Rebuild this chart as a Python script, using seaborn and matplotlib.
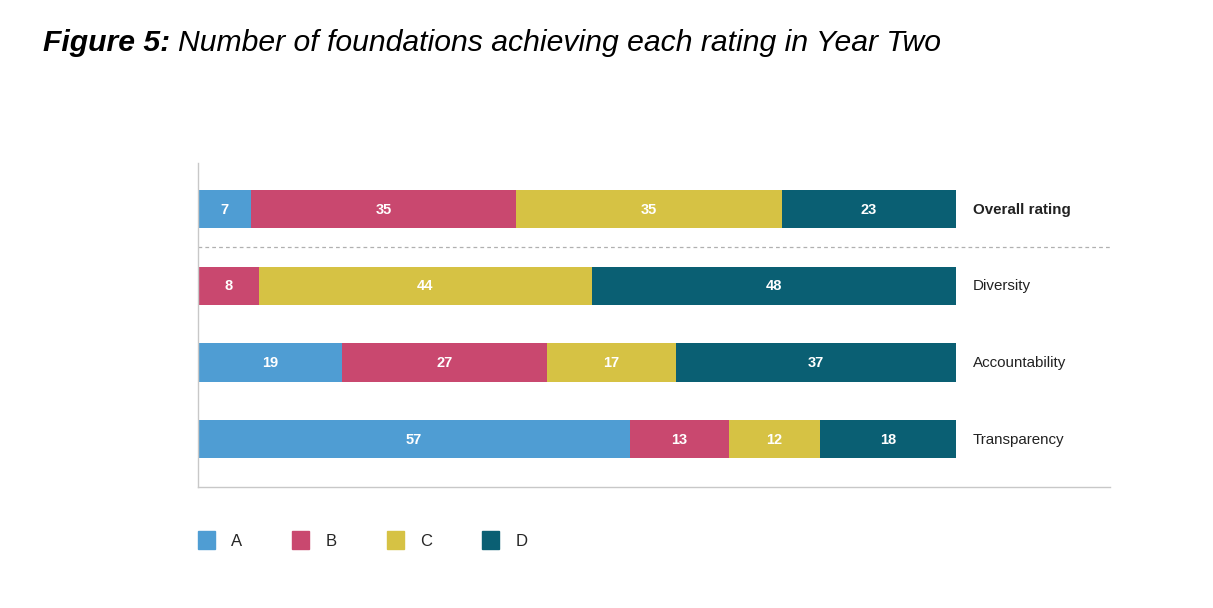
import matplotlib
matplotlib.use("Agg")
import matplotlib.pyplot as plt
import matplotlib.patches as mpatches
import seaborn as sns
import pandas as pd
import numpy as np

categories = ["Overall rating", "Diversity", "Accountability", "Transparency"]
ratings = ["A", "B", "C", "D"]
vals_A = [7, 0, 19, 57]
vals_B = [35, 8, 27, 13]
vals_C = [35, 44, 17, 12]
vals_D = [23, 48, 37, 18]
colors = {"A": "#4f9dd3", "B": "#c9486f", "C": "#d6c244", "D": "#0a5f73"}

sns.set_theme(style="white")
plt.rcParams["font.family"] = ["Liberation Sans", "DejaVu Sans"]

df = pd.DataFrame({"category": categories, "A": vals_A, "B": vals_B,
                   "C": vals_C, "D": vals_D})
cum = df[ratings].cumsum(axis=1)

fig = plt.figure(figsize=(12.13, 6.08), dpi=100)
ax = fig.add_axes([198 / 1213, 1 - 487 / 608, (1110 - 198) / 1213, (487 - 163) / 608])

for r in reversed(ratings):
    sns.barplot(x=cum[r], y=df["category"], orient="h", color=colors[r],
                width=0.5, linewidth=0, saturation=1, ax=ax)

for i, cat in enumerate(categories):
    for r in ratings:
        v = df.loc[i, r]
        if v > 0:
            ax.text(cum.loc[i, r] - v / 2, i + 0.01, str(v), ha="center", va="center",
                    color="white", fontsize=10.5, fontweight="bold")
    ax.text(102.2, i + 0.01, cat, ha="left", va="center", color="#222222",
            fontsize=10.9, fontweight="bold" if i == 0 else "normal")

ax.axhline(0.5, color="#b0b0b0", linestyle=(0, (3, 2.5)), linewidth=0.9, xmin=0, xmax=1)

ax.set_xlim(0, 100 * 912 / 758)
ax.set_ylim(3.626, -0.6)
ax.set_xticks([])
ax.set_yticks([])
ax.set_xlabel("")
ax.set_ylabel("")
for s in ["top", "right"]:
    ax.spines[s].set_visible(False)
for s in ["left", "bottom"]:
    ax.spines[s].set_color("#c8c8c8")
    ax.spines[s].set_linewidth(1.0)

handles = [mpatches.Patch(color=colors[r], label=r) for r in ratings]
leg = fig.legend(handles=handles, loc="center left",
                 bbox_to_anchor=(183 / 1213, 1 - 540 / 608), ncol=4, frameon=False,
                 fontsize=12, handlelength=1.0, handleheight=1.3,
                 handletextpad=1.0, columnspacing=3.0)

fig.text(43 / 1213, 1 - 43 / 608, "Figure 5:", fontsize=21.7, fontweight="bold",
         fontstyle="italic", ha="left", va="center", color="black")
fig.text(178 / 1213, 1 - 43 / 608, "Number of foundations achieving each rating in Year Two",
         fontsize=21.7, fontstyle="italic", ha="left", va="center", color="black")

fig.savefig("out.png", dpi=100)
